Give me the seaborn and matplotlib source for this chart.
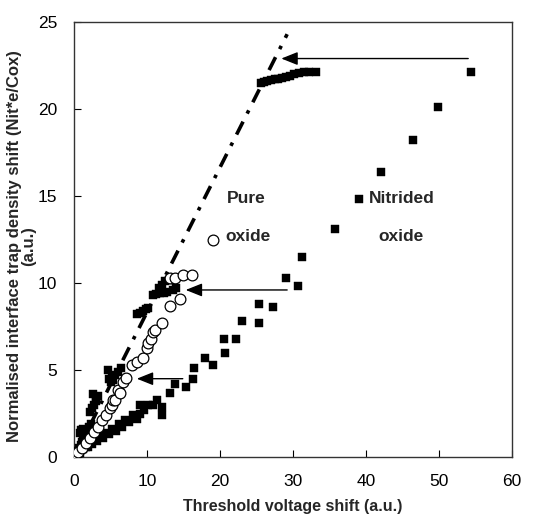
import numpy as np
import pandas as pd
import matplotlib
matplotlib.use('Agg')
from matplotlib import pyplot as plt
import seaborn as sns

# pure oxide (open circles)
pure_x = [0.15, 0.5, 1.1, 1.6, 2.2, 2.7, 3.3, 3.8, 4.4, 4.9, 5.2, 5.3, 5.6, 6.0, 6.3,
          6.7, 7.1, 8.0, 8.6, 9.4, 10.0, 10.1, 10.6, 10.8, 11.1, 12.0, 13.1, 14.5,
          13.1, 13.8, 14.9, 16.1, 19.0]
pure_y = [0.1, 0.29, 0.52, 0.8, 1.09, 1.44, 1.72, 2.13, 2.41, 2.82, 2.99, 3.28, 3.28, 3.85, 3.68,
          4.31, 4.54, 5.29, 5.46, 5.7, 6.26, 6.55, 6.8, 7.2, 7.3, 7.7, 8.7, 9.1,
          10.3, 10.3, 10.46, 10.46, 12.5]

# nitrided oxide, as measured (filled squares)
nit_x = [0.2, 0.5, 0.8, 1.0, 1.3, 1.6, 1.9, 2.2, 2.5, 2.9, 3.2, 3.6, 4.0, 4.3, 4.8,
         5.2, 5.7, 6.1, 6.6, 7.0, 7.6, 8.1, 8.6, 9.0, 9.0, 9.6, 10.2, 10.8, 11.4,
         12.0, 12.0, 13.1, 13.8, 15.3, 16.3, 16.4, 18.0, 19.0, 20.7, 20.5, 22.2,
         23.0, 25.4, 25.4, 27.2, 29.0, 30.7, 31.2, 35.7, 39.0, 42.0, 46.5, 49.8, 54.4]
nit_y = [0.1, 0.2, 0.25, 0.4, 0.45, 0.6, 0.55, 0.8, 0.75, 1.0, 0.9, 1.2, 1.1, 1.4, 1.3,
         1.6, 1.5, 1.9, 1.7, 2.1, 2.0, 2.4, 2.2, 2.5, 3.0, 2.7, 3.0, 3.0, 3.3,
         2.9, 2.4, 3.7, 4.2, 4.0, 4.5, 5.1, 5.7, 5.3, 6.0, 6.8, 6.8,
         7.8, 7.7, 8.8, 8.6, 10.3, 9.8, 11.5, 13.1, 14.8, 16.4, 18.2, 20.1, 22.1]

# nitrided oxide, shifted onto the pure oxide curve (filled squares)
shift_x = [0.1, 0.3, 0.5, 0.7, 0.9, 1.1, 1.3, 0.8, 1.0, 1.2, 1.5, 1.8, 2.0, 2.3,
           2.2, 2.5, 2.8, 3.0, 3.3, 2.6, 3.0,
           4.8, 5.0, 5.2, 5.6, 6.0, 6.4, 4.7, 5.3,
           8.6, 9.0, 9.4, 9.8, 10.2,
           10.8, 11.3, 11.8, 12.3, 12.8, 13.6, 14.0, 11.7, 12.0, 12.5, 13.0, 13.5,
           25.6, 26.0, 26.5, 27.0, 27.5, 28.0, 28.5, 29.0, 29.6, 30.2, 30.8, 31.5,
           32.2, 33.2]
shift_y = [0.05, 0.2, 0.35, 0.5, 0.7, 0.85, 1.0, 1.4, 1.55, 1.6, 1.4, 1.5, 1.7, 1.9,
           2.6, 2.8, 3.0, 3.2, 3.5, 3.6, 3.3,
           4.5, 4.3, 4.6, 4.7, 4.9, 5.1, 5.0, 4.4,
           8.2, 8.3, 8.4, 8.5, 8.55,
           9.3, 9.35, 9.4, 9.45, 9.5, 9.6, 9.7, 9.7, 9.9, 10.1, 10.2, 10.3,
           21.5, 21.55, 21.6, 21.65, 21.7, 21.75, 21.8, 21.85, 21.9, 22.0, 22.05, 22.1,
           22.1, 22.1]

# guide line and shift arrows
fit_x = [0, 29.2]
fit_y = [0, 24.3]
arrow_from = [(54.0, 22.9), (29.2, 9.6), (14.9, 4.5)]
arrow_to = [(28.4, 22.9), (15.3, 9.6), (8.6, 4.5)]

sns.set_style('white')
plt.rcParams['font.family'] = ['Liberation Sans', 'DejaVu Sans']

fig = plt.figure(figsize=(5.46, 5.21), dpi=100)
ax = fig.add_axes([74 / 546, 1 - 457 / 521, 438 / 546, 435 / 521])

sns.lineplot(x=fit_x, y=fit_y, ax=ax, color='black', lw=2.6,
             dashes=False, zorder=1).lines[0].set_dashes((4, 2.5, 1, 2.5))

sns.scatterplot(x=nit_x, y=nit_y, ax=ax, marker='s', s=38, color='black',
                edgecolor='black', linewidth=0.3, zorder=3)
sns.scatterplot(x=shift_x, y=shift_y, ax=ax, marker='s', s=38, color='black',
                edgecolor='black', linewidth=0.3, zorder=3)
sns.scatterplot(x=pure_x, y=pure_y, ax=ax, marker='o', s=60, facecolor='white',
                edgecolor='black', linewidth=0.9, zorder=4)

for (x0, y0), (x1, y1) in zip(arrow_from, arrow_to):
    ax.annotate('', xy=(x1, y1), xytext=(x0, y0),
                arrowprops=dict(arrowstyle='-|>,head_length=1.0,head_width=0.4',
                                color='black', lw=1.0, shrinkA=0, shrinkB=0),
                zorder=5)

label_kw = dict(fontsize=12.5, fontweight='bold', ha='center', va='center')
ax.text(23.6, 14.85, 'Pure', **label_kw)
ax.text(23.8, 12.65, 'oxide', **label_kw)
ax.text(44.9, 14.85, 'Nitrided', **label_kw)
ax.text(44.8, 12.65, 'oxide', **label_kw)

ax.set_xlim(0, 60)
ax.set_ylim(0, 25)
ax.set_xticks(range(0, 61, 10))
ax.set_yticks(range(0, 26, 5))
ax.tick_params(direction='in', length=5, width=0.8, labelsize=12.5, pad=12,
               bottom=True, left=True, colors='black')
for sp in ax.spines.values():
    sp.set_color('#333333')
    sp.set_linewidth(1.0)
ax.set_xlabel('Threshold voltage shift (a.u.)', fontsize=11.5, fontweight='bold')
ax.set_ylabel('Normalised interface trap density shift (Nit*e/Cox)\n(a.u.)',
              fontsize=12, fontweight='bold', linespacing=0.9)
ax.xaxis.set_label_coords(0.5, -42 / 435, transform=ax.transAxes)
ax.yaxis.set_label_coords(-38 / 438, 0.485, transform=ax.transAxes)

fig.savefig('out.png', dpi=100)
